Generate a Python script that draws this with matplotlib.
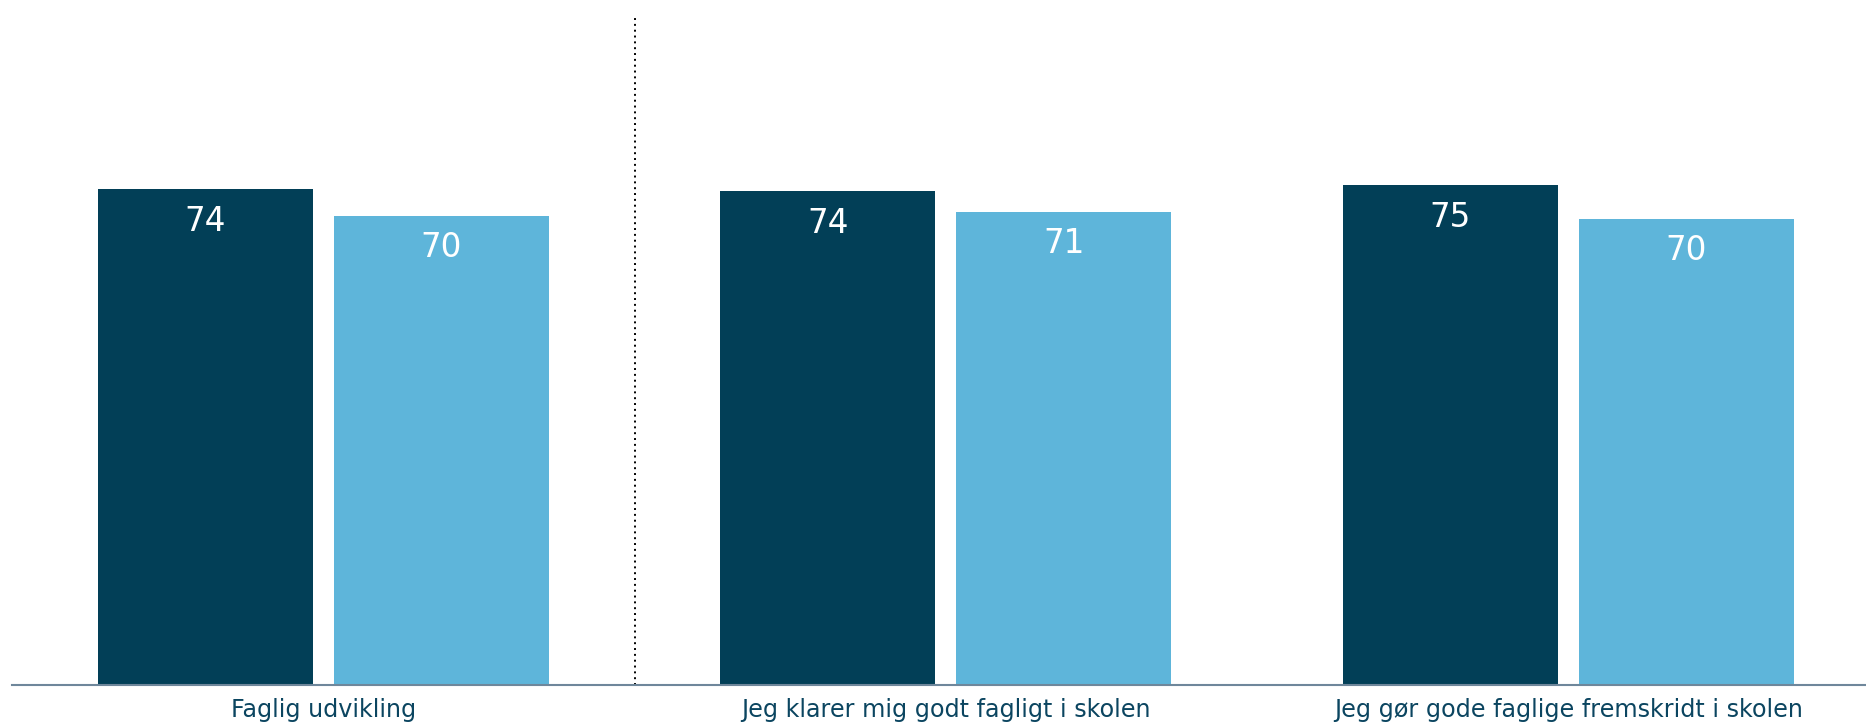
import numpy as np
import matplotlib
matplotlib.use('Agg')
import matplotlib.pyplot as plt

# data
categories = ["Faglig udvikling",
              "Jeg klarer mig godt fagligt i skolen",
              "Jeg gør gode faglige fremskridt i skolen"]
series_a = [74.0, 73.7, 74.6]
series_b = [70.0, 70.6, 69.6]

dark = "#023f57"
light = "#5eb5da"
text_col = "#0b4560"

fig = plt.figure(figsize=(18.66, 7.26), dpi=100)
ax = fig.add_axes([12 / 1866, 1 - 685 / 726, 1 - 12 / 1866, 670 / 726])

x = np.arange(len(categories))
w = 0.345
off = 0.1895
bars_a = ax.bar(x - off, series_a, width=w, color=dark, linewidth=0)
bars_b = ax.bar(x + off, series_b, width=w, color=light, linewidth=0)

for bars in (bars_a, bars_b):
    for b in bars:
        ax.annotate(f"{round(b.get_height())}",
                    (b.get_x() + b.get_width() / 2, b.get_height()),
                    xytext=(0, -23), textcoords="offset points",
                    ha="center", va="center", color="white", fontsize=23.5)

# dotted separator after the first group
ax.axvline(0.5, ymin=0, ymax=1, color="black", lw=1.4,
           linestyle=(0, (1, 2)))

ax.set_xlim(-0.5, 2.478)
ax.set_ylim(0, 100)
ax.set_xticks(x)
ax.set_xticklabels(categories, fontsize=17.2, color=text_col)
ax.tick_params(axis="x", length=0, pad=9)
ax.set_yticks([])
for s in ("top", "right", "left"):
    ax.spines[s].set_visible(False)
ax.spines["bottom"].set_color("#6f879b")
ax.spines["bottom"].set_linewidth(1.5)

fig.savefig("out.png", dpi=100)
plt.close(fig)
